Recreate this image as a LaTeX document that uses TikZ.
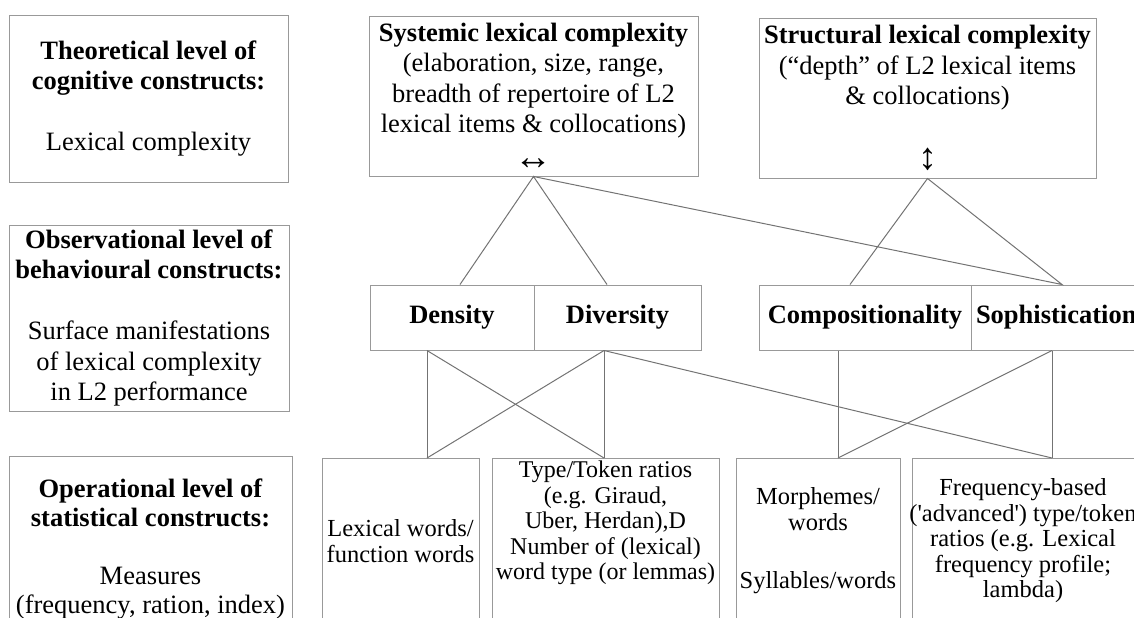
\documentclass[tikz,border=0pt]{standalone}
\usepackage{fontspec}
\setmainfont{Liberation Serif}
\usepackage{tikz}
\usetikzlibrary{calc}
\tikzset{
  lvl/.style={draw=black!40, line width=0.5pt, align=center, inner sep=0pt,
    font=\fontsize{13.25}{15.25}\selectfont},
  cat/.style={lvl, font=\fontsize{13.25}{15.25}\selectfont\bfseries},
  meas/.style={draw=black!40, line width=0.5pt, anchor=north, inner sep=0pt, minimum height=125pt},
  mtxt/.style={align=center, inner sep=0pt, font=\fontsize{12.25}{12.75}\selectfont},
  link/.style={draw=black!55, line width=0.5pt},
}
\newcommand{\bigarr}[1]{{\fontsize{19}{15.25}\selectfont #1}}

\begin{document}
\begin{tikzpicture}[x=0.5pt,y=-0.5pt]
  \useasboundingbox (0,0) rectangle (1134,617);
  \clip (0,0) rectangle (1134,617);
  % levels on the left
  \node[lvl, minimum width=139.5pt, minimum height=83.5pt] (theo) at (148.5,98.5)
    {\textbf{Theoretical level of}\\\textbf{cognitive constructs:}\\[15.25pt]Lexical complexity};
  \node[lvl, minimum width=140pt, minimum height=93pt] (obs) at (149,318)
    {\textbf{Observational level of}\\\textbf{behavioural constructs:}\\[15.25pt]Surface manifestations\\of lexical complexity\\in L2 performance};
  \node[meas, minimum width=141.5pt] (oper) at (150.5,456) {};
  \node[lvl, draw=none, font=\fontsize{13.25}{14.5}\selectfont] (operT) at (150.5,549)
    {\textbf{Operational level of}\\\textbf{statistical constructs:}\\[14.5pt]Measures\\(frequency, ration, index)};
  % cognitive constructs
  \node[lvl, minimum width=164.5pt, minimum height=80pt] (sys) at (533.5,96)
    {\textbf{Systemic lexical complexity}\\(elaboration, size, range,\\breadth of repertoire of L2\\lexical items \& collocations)\\[3pt]\bigarr{↔}};
  \node[lvl, minimum width=168.5pt, minimum height=80pt] (struc) at (927.5,98)
    {\textbf{Structural lexical complexity}\\(“depth” of L2 lexical items\\\& collocations)\\[17pt]\bigarr{↕}};
  % behavioural constructs
  \node[cat, minimum width=82pt, minimum height=32.5pt] (dens) at (452,317.5) {Density};
  \node[cat, minimum width=83.5pt, minimum height=32.5pt] (div) at (617.5,317.5) {Diversity};
  \node[cat, minimum width=106pt, minimum height=32.5pt] (comp) at (865,317.5) {Compositionality};
  \node[cat, minimum width=85pt, minimum height=32.5pt, text width=80pt] (soph) at (1056,317.5) {Sophistication};
  % measures
  \node[meas, minimum width=78.5pt] (lexw) at (400.5,458) {};
  \node[meas, minimum width=113.5pt] (ttr) at (605.5,458) {};
  \node[meas, minimum width=82pt] (morph) at (818,458) {};
  \node[meas, minimum width=114pt] (freq) at (1026,458) {};
  \node[mtxt] (lexwT) at (400.5,541) {Lexical words/\\function words};
  \node[mtxt, font=\fontsize{12}{12.75}\selectfont] (ttrT) at (605.5,523)
    {Type/Token ratios\\(e.g. Giraud,\\Uber, Herdan),D\\Number of (lexical)\\word type (or lemmas)};
  \node[mtxt] (morphT) at (818,541) {Morphemes/\\words\\[16.5pt]Syllables/words};
  \node[mtxt] (freqT) at (1023,541)
    {Frequency-based\\(\textquotesingle advanced\textquotesingle) type/token\\ratios (e.g. Lexical\\frequency profile;\\lambda)};
  % links
  \draw[link] ($(dens.north)+(8,0)$) -- (sys.south) -- ($(div.north)+(-10.5,0)$);
  \draw[link] (sys.south) -- ($(soph.north)+(6,0)$) -- (struc.south) -- ($(comp.north)+(-15,0)$);
  \draw[link] ($(dens.south)+(-25,0)$) -- ($(lexw.north)+(26.5,0)$);
  \draw[link] ($(dens.south)+(-25,0)$) -- ($(ttr.north)+(-1.5,0)$);
  \draw[link] ($(div.south)+(-13.5,0)$) -- ($(ttr.north)+(-1.5,0)$);
  \draw[link] ($(div.south)+(-13.5,0)$) -- ($(lexw.north)+(26.5,0)$);
  \draw[link] ($(div.south)+(-13.5,0)$) -- ($(freq.north)+(26,0)$);
  \draw[link] ($(comp.south)+(-27,0)$) -- ($(morph.north)+(20,0)$);
  \draw[link] ($(soph.south)+(-4,0)$) -- ($(freq.north)+(26,0)$);
  \draw[link] ($(soph.south)+(-4,0)$) -- ($(morph.north)+(20,0)$);
\end{tikzpicture}
\end{document}
